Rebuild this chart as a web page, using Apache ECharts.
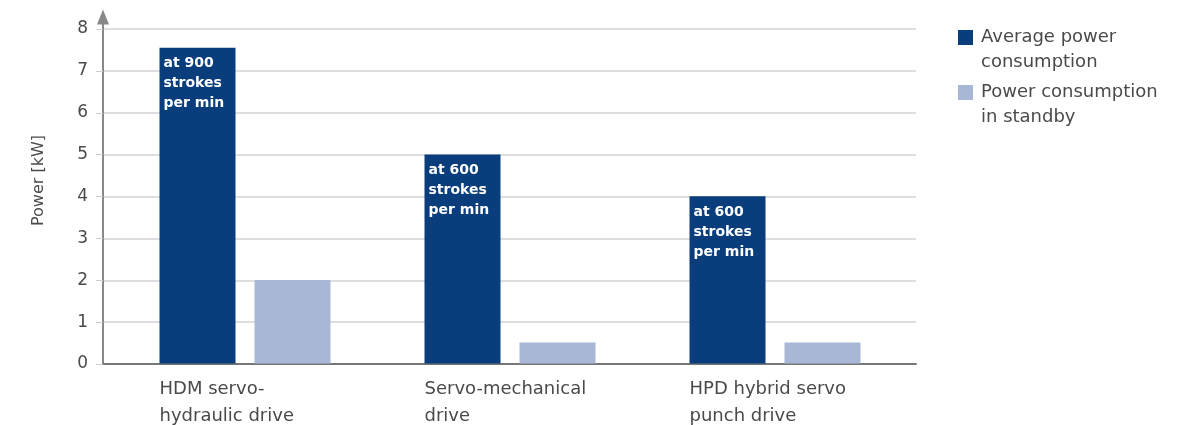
<!DOCTYPE html>
<html>
<head>
<meta charset="utf-8">
<script src="https://cdn.jsdelivr.net/npm/echarts@6/dist/echarts.min.js"></script>
<style>html,body{margin:0;padding:0;background:#fff}#c{width:1195px;height:425px}</style>
</head>
<body>
<div id="c"></div>
<script>
const categories = ['HDM servo-\nhydraulic drive', 'Servo-mechanical\ndrive', 'HPD hybrid servo\npunch drive'];
const averagePower = [7.55, 5, 4];
const standbyPower = [2, 0.5, 0.5];
const barNotes = ['at 900\nstrokes\nper min', 'at 600\nstrokes\nper min', 'at 600\nstrokes\nper min'];
const seriesNames = ['Average power consumption', 'Power consumption in standby'];
const legendLabels = ['Average power\nconsumption', 'Power consumption\nin standby'];
const yTicks = [0, 1, 2, 3, 4, 5, 6, 7, 8];

const FONT = 'DejaVu Sans';
const TXT = '#4a4a4a';
const DARK = '#0a3d7b';
const LIGHT = '#a9b7d6';

const chart = echarts.init(document.getElementById('c'));
chart.setOption({
  animation: false,
  textStyle: { fontFamily: FONT },
  grid: [
    { left: 103, right: 279, top: 29, bottom: 61 },
    { left: 112.5, right: 287.5, top: 29, bottom: 61 },
    { left: 103, right: 279, top: 17, bottom: 61 }
  ],
  legend: {
    orient: 'vertical',
    left: 958,
    top: 0,
    padding: 0,
    itemWidth: 15,
    itemHeight: 15,
    itemGap: -20,
    icon: 'rect',
    data: seriesNames,
    formatter: n => '\n' + legendLabels[seriesNames.indexOf(n)],
    textStyle: { fontFamily: FONT, fontSize: 18, color: TXT, lineHeight: 25, padding: [0, 0, 0, 3] }
  },
  xAxis: [
    { gridIndex: 0, type: 'category', data: categories,
      axisLine: { show: true, lineStyle: { color: '#777', width: 2 } },
      axisTick: { show: false }, axisLabel: { show: false }, splitLine: { show: false } },
    { gridIndex: 1, type: 'category', data: categories,
      axisLine: { show: false }, axisTick: { show: false },
      axisLabel: {
        margin: 12,
        formatter: v => v.split('\n').map(s => '{a|' + s + '}').join('\n'),
        rich: { a: { width: 171, align: 'left', fontFamily: FONT, fontSize: 18, color: TXT, lineHeight: 27 } }
      } },
    { gridIndex: 2, type: 'category', data: categories, show: false }
  ],
  yAxis: [
    { gridIndex: 0, type: 'value', min: yTicks[0], max: yTicks[yTicks.length - 1], interval: 1,
      axisLine: { show: false },
      axisTick: { show: true, length: 7, lineStyle: { color: '#ccc' } },
      axisLabel: { margin: 15, fontFamily: FONT, fontSize: 17, color: TXT },
      splitLine: { show: true, lineStyle: { color: '#d3d3d3', width: 1.5 } },
      name: 'Power [kW]', nameLocation: 'middle', nameGap: 56,
      nameTextStyle: { fontFamily: FONT, fontSize: 16, color: TXT, padding: [0, 0, 0, 32] } },
    { gridIndex: 1, type: 'value', min: 0, max: 8, interval: 1, show: false },
    { gridIndex: 2, type: 'value', min: 0, max: 8, show: true,
      axisLine: { show: true, lineStyle: { color: '#888', width: 2 }, symbol: ['none', 'triangle'], symbolSize: [12, 15] },
      axisTick: { show: false }, axisLabel: { show: false }, splitLine: { show: false } }
  ],
  series: [
    { name: seriesNames[0], type: 'bar', xAxisIndex: 1, yAxisIndex: 1,
      data: averagePower, barWidth: 76, barGap: '25%',
      itemStyle: { color: DARK },
      label: { show: true, position: 'insideTopLeft', distance: 4, offset: [0, 2],
        formatter: p => barNotes[p.dataIndex],
        color: '#fff', fontFamily: FONT, fontSize: 14, fontWeight: 'bold', lineHeight: 20, align: 'left', verticalAlign: 'top' } },
    { name: seriesNames[1], type: 'bar', xAxisIndex: 1, yAxisIndex: 1,
      data: standbyPower, barWidth: 76,
      itemStyle: { color: LIGHT } }
  ]
});
</script>
</body>
</html>
